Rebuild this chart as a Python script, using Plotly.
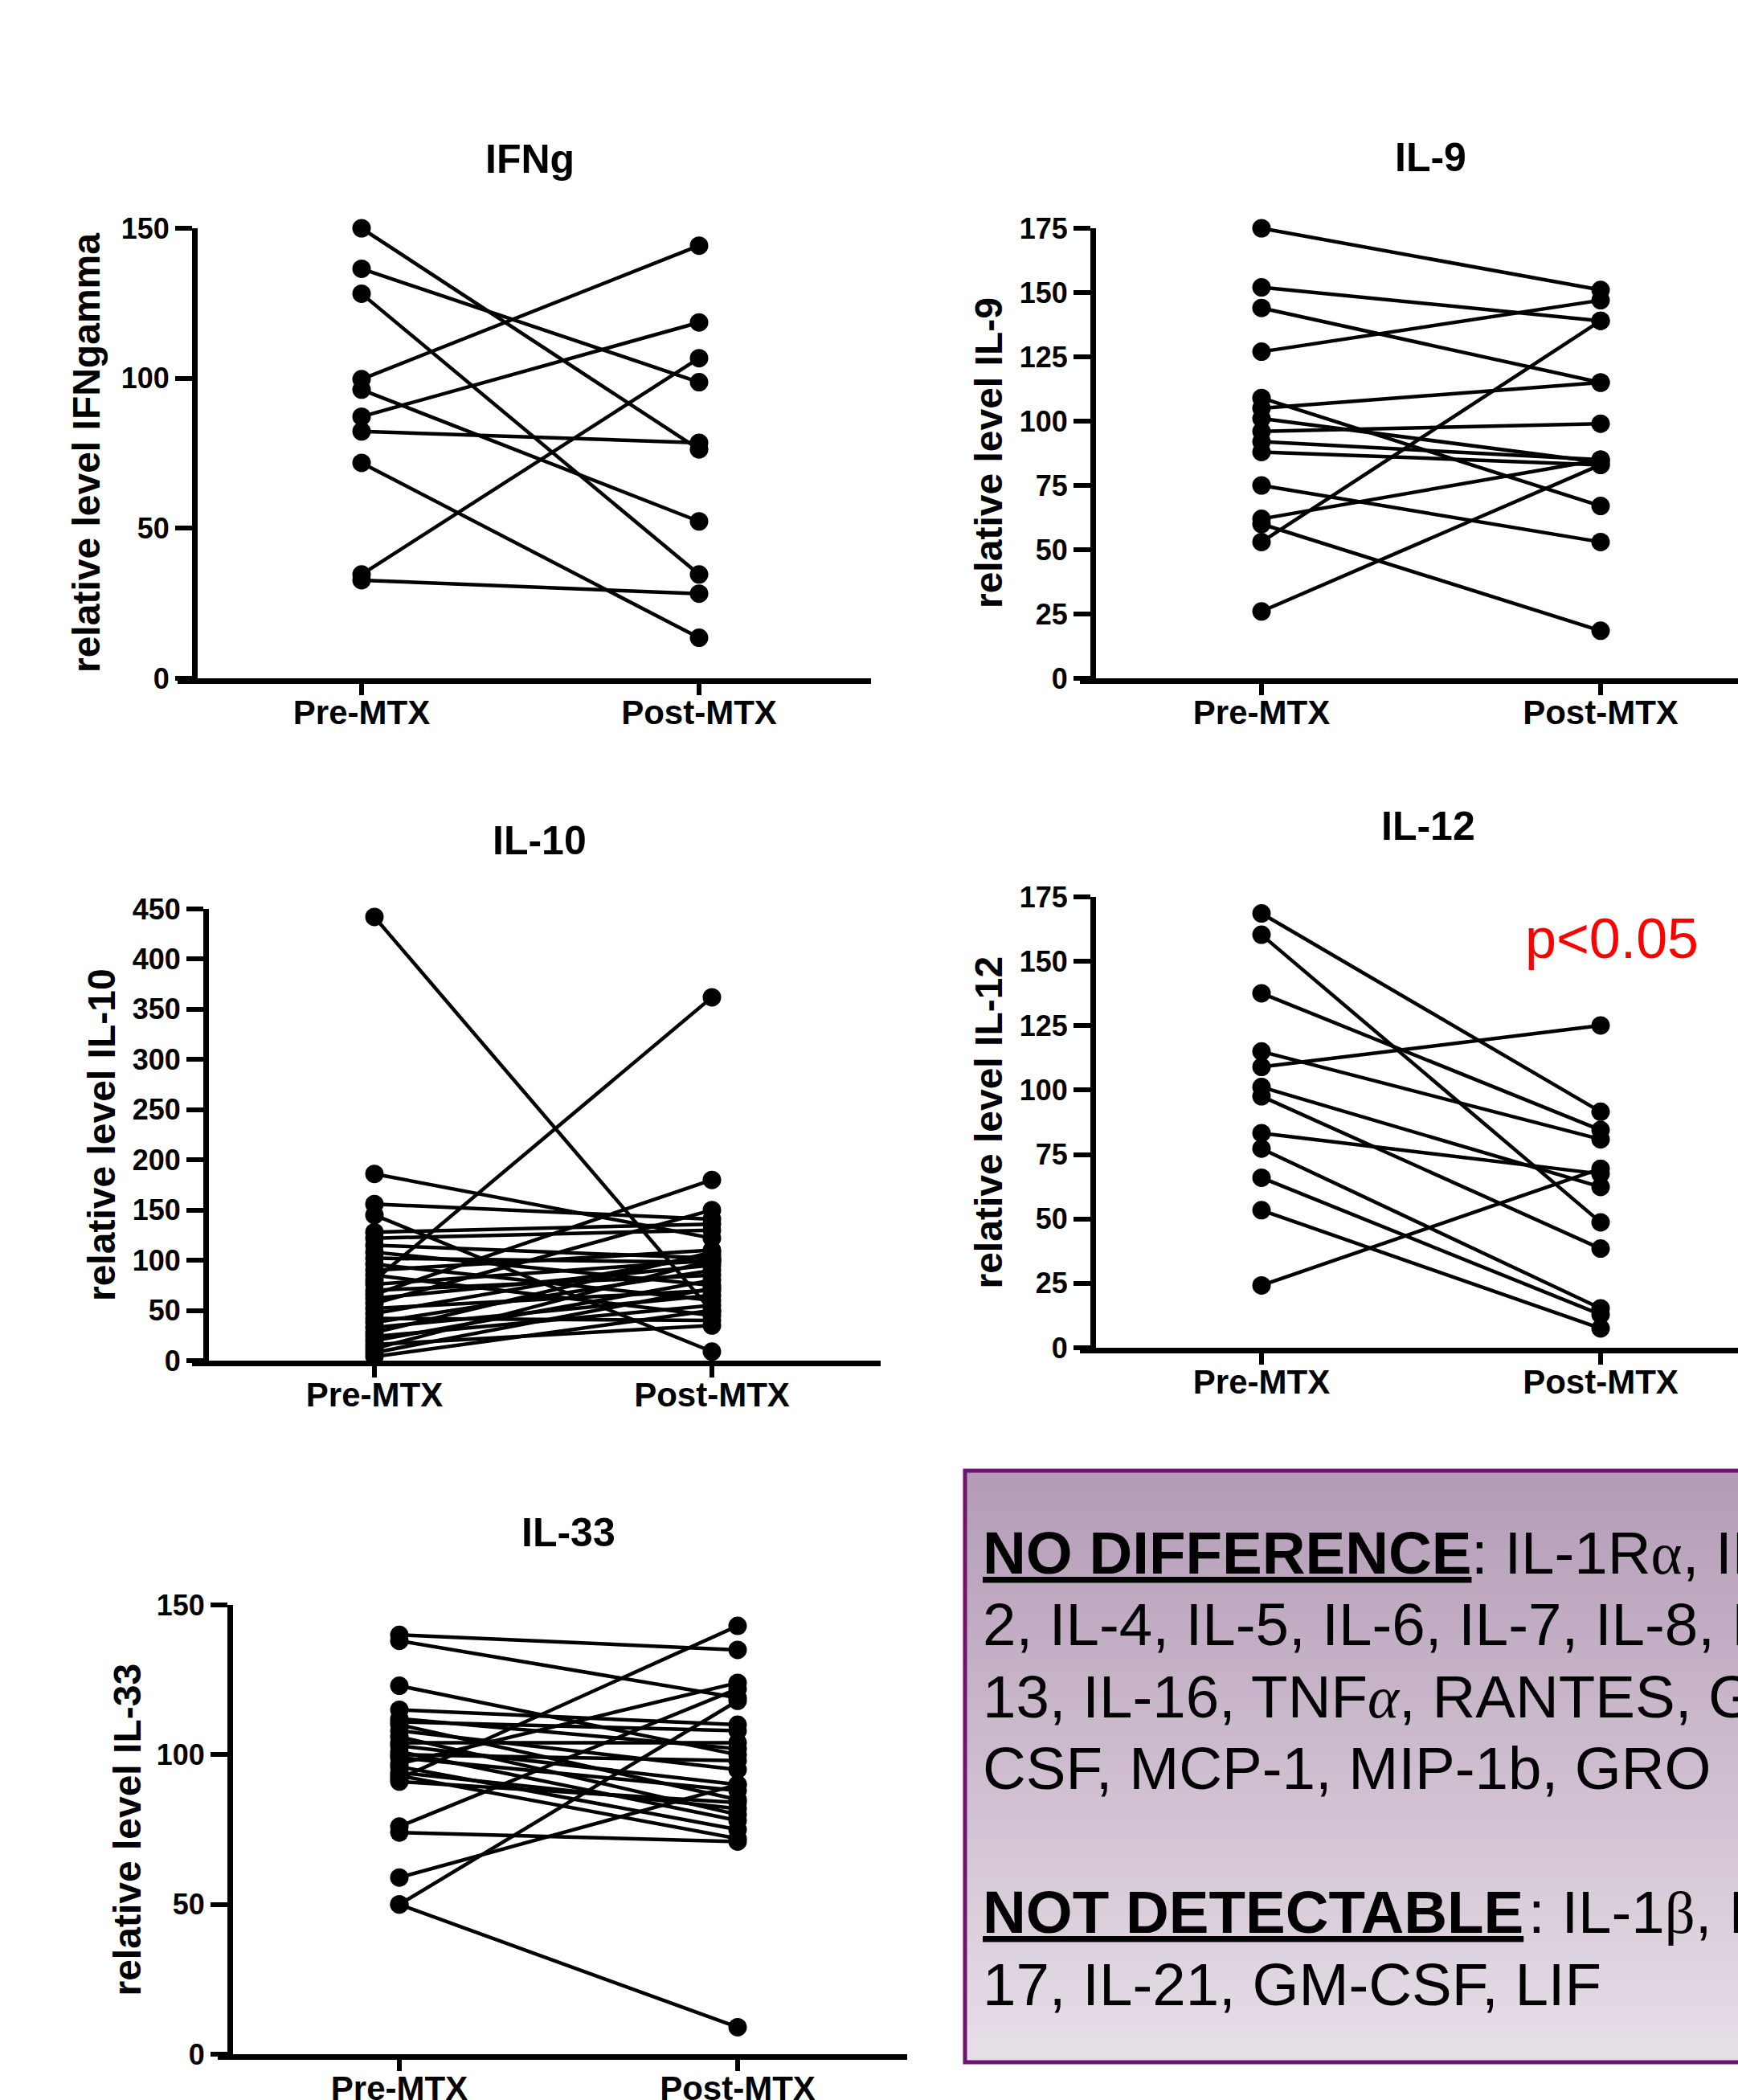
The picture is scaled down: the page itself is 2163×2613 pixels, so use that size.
import plotly.graph_objects as go

W, H = 2163, 2613

categories = ["Pre-MTX", "Post-MTX"]

ifng_pre = [150, 136.5, 128.2, 99.7, 96.2, 87.2, 82.3, 71.8, 34.6, 32.7]
ifng_post = [76.3, 98.7, 34.6, 144.2, 52.3, 118.6, 78.5, 13.5, 106.7, 28.2]

il9_pre = [175, 152, 144, 127, 109, 105, 101, 96, 92, 88, 75, 62, 60, 53, 26]
il9_post = [151, 139, 115, 147, 67, 115, 84, 99, 85, 83, 53, 85, 18.5, 139, 83]

il10_pre = [442, 186, 156, 145, 128, 122, 115, 108, 102, 96, 90, 85, 80, 76, 70,
            66, 62, 57, 52, 47, 42, 38, 33, 28, 24, 20, 16, 12, 8, 4]
il10_post = [49, 122, 141, 9, 136, 130, 102, 75, 98, 60, 110, 45, 362, 100, 85,
             180, 95, 150, 70, 105, 40, 90, 65, 108, 55, 80, 35, 100, 72, 50]

il12_pre = [168.6, 160.3, 137.6, 115, 109, 101.2, 97.6, 83.3, 77.3, 66, 53.4, 24.2]
il12_post = [91.6, 48.7, 84.5, 80.9, 125.1, 62.4, 38.5, 67.5, 15.3, 12.9, 7.5, 69.5]

il33_pre = [140, 138, 123, 115, 112, 111, 110, 108, 106, 104, 103, 101, 100, 99, 97,
            96, 94, 93, 92, 91, 76, 74, 59, 50, 50]
il33_post = [135, 119, 100, 110, 102, 108, 85, 95, 80, 104, 90, 78, 98, 88, 124,
             75, 82, 72, 143, 84, 122, 71, 90, 118, 9]

panel_titles = ["IFNg", "IL-9", "IL-10", "IL-12", "IL-33"]
y_titles = ["relative level IFNgamma", "relative level IL-9", "relative level IL-10",
            "relative level IL-12", "relative level IL-33"]
y_max = [150, 175, 450, 175, 150]
y_dtick = [50, 25, 50, 25, 50]
pre_series = [ifng_pre, il9_pre, il10_pre, il12_pre, il33_pre]
post_series = [ifng_post, il9_post, il10_post, il12_post, il33_post]

# layout geometry (pixels)
geom = [
    dict(yx=242, xl=221, xr=1084, top=284, bot=844, p0=450, p1=870, tx=659, ty=198, ax=107),
    dict(yx=1360, xl=1344, xr=2163, top=284, bot=844, p0=1570, p1=1992, tx=1780, ty=196, ax=1230),
    dict(yx=256, xl=239, xr=1096, top=1131, bot=1693, p0=466, p1=886, tx=671, ty=1046, ax=126),
    dict(yx=1360, xl=1344, xr=2163, top=1116, bot=1677, p0=1570, p1=1992, tx=1777, ty=1028, ax=1230),
    dict(yx=286, xl=271, xr=1129, top=1997, bot=2556, p0=497, p1=918, tx=707, ty=1907, ax=158),
]

FONT = "Liberation Sans, Arial, sans-serif"

fig = go.Figure()
layout = dict(
    width=W, height=H, margin=dict(l=0, r=0, t=0, b=0, autoexpand=False),
    paper_bgcolor="white", plot_bgcolor="rgba(0,0,0,0)", showlegend=False,
    font=dict(family=FONT, color="black"),
)
annotations = []
shapes = []

for i in range(5):
    n = i + 1
    g = geom[i]
    xa = f"x{n}"
    ya = f"y{n}"
    for a, b in zip(pre_series[i], post_series[i]):
        fig.add_trace(go.Scatter(
            x=categories, y=[a, b], xaxis=xa, yaxis=ya,
            mode="lines+markers", line=dict(color="black", width=4.5),
            marker=dict(size=23, color="black"), cliponaxis=False,
            hoverinfo="skip", showlegend=False))
    s = g["p1"] - g["p0"]
    layout[f"xaxis{n}"] = dict(
        domain=[g["xl"] / W, g["xr"] / W],
        range=[(g["xl"] - g["p0"]) / s, (g["xr"] - g["p0"]) / s],
        type="category", categoryarray=categories, anchor=ya, automargin=False,
        showline=True, linecolor="black", linewidth=7,
        ticks="outside", ticklen=14, tickwidth=6, tickcolor="black",
        ticklabelstandoff=-14,
        tickfont=dict(family=FONT, size=42, color="black", weight="bold"),
        showgrid=False, zeroline=False, fixedrange=True)
    layout[f"yaxis{n}"] = dict(
        domain=[1 - g["bot"] / H, 1 - g["top"] / H],
        range=[0, y_max[i]], anchor="free", position=g["yx"] / W, automargin=False,
        showline=True, linecolor="black", linewidth=7,
        ticks="outside", ticklen=21, tickwidth=6, tickcolor="black",
        tick0=0, dtick=y_dtick[i],
        tickfont=dict(family=FONT, size=36, color="black", weight="bold"),
        showgrid=False, zeroline=False, fixedrange=True)
    annotations.append(dict(
        text=panel_titles[i], x=g["tx"] / W, y=1 - g["ty"] / H, xref="paper", yref="paper",
        xanchor="center", yanchor="middle", showarrow=False,
        font=dict(family=FONT, size=50, color="black", weight="bold")))
    annotations.append(dict(
        text=y_titles[i], x=g["ax"] / W, y=1 - (g["top"] + g["bot"]) / 2 / H,
        xref="paper", yref="paper", xanchor="center", yanchor="middle",
        textangle=-90, showarrow=False,
        font=dict(family=FONT, size=48, color="black", weight="bold")))

# significance label
annotations.append(dict(
    text="p&lt;0.05", x=2006 / W, y=1 - 1168 / H, xref="paper", yref="paper",
    xanchor="center", yanchor="middle", showarrow=False,
    font=dict(family=FONT, size=70, color="#ff0000")))

# summary box with vertical gradient
box_l, box_t, box_b = 1201, 1830, 2566
top_rgb = (180, 155, 182)
bot_rgb = (231, 223, 232)
nb = 60
for k in range(nb):
    t = k / (nb - 1)
    c = tuple(round(top_rgb[j] + (bot_rgb[j] - top_rgb[j]) * t) for j in range(3))
    y0 = box_t + (box_b - box_t) * k / nb
    y1 = box_t + (box_b - box_t) * (k + 1) / nb + 1
    shapes.append(dict(type="rect", xref="paper", yref="paper",
                       x0=box_l / W, x1=1.05, y0=1 - y1 / H, y1=1 - y0 / H,
                       fillcolor=f"rgb{c}", line=dict(width=0), layer="below"))
shapes.append(dict(type="rect", xref="paper", yref="paper",
                   x0=box_l / W, x1=1.05, y0=1 - box_b / H, y1=1 - box_t / H,
                   fillcolor="rgba(0,0,0,0)", line=dict(color="#6e1470", width=5),
                   layer="below"))

SERIF = "<span style='font-family:Liberation Serif'>"
TS = 74.5
text_x = 1221
baselines = [1958, 2047, 2137, 2226, 2405, 2495]
headings = {0: ("NO DIFFERENCE", 8.167), 4: ("NOT DETECTABLE", 9.111)}
line_texts = [
    ": IL-1R" + SERIF + "α</span>, IL-",
    "2, IL-4, IL-5, IL-6, IL-7, IL-8, IL-",
    "13, IL-16, TNF" + SERIF + "<i>α</i></span>, RANTES, G-",
    "CSF, MCP-1, MIP-1b, GRO",
    ": IL-1" + SERIF + "β</span>, IL-",
    "17, IL-21, GM-CSF, LIF",
]
for k, txt in enumerate(line_texts):
    yc = baselines[k] - 0.3465 * TS
    x0 = text_x
    if k in headings:
        head, em = headings[k]
        annotations.append(dict(
            text=head, x=text_x / W, y=1 - yc / H, xref="paper", yref="paper",
            xanchor="left", yanchor="middle", showarrow=False,
            font=dict(family=FONT, size=TS, color="black", weight="bold",
                      lineposition="under")))
        x0 = text_x + em * TS
    annotations.append(dict(
        text=txt, x=x0 / W, y=1 - yc / H, xref="paper", yref="paper",
        xanchor="left", yanchor="middle", showarrow=False,
        font=dict(family=FONT, size=TS, color="black")))

layout["annotations"] = annotations
layout["shapes"] = shapes
fig.update_layout(**layout)

fig.write_html("out.html", config={"displayModeBar": False, "staticPlot": True},
               post_script="document.body.style.margin='0';document.body.style.overflow='hidden';")
